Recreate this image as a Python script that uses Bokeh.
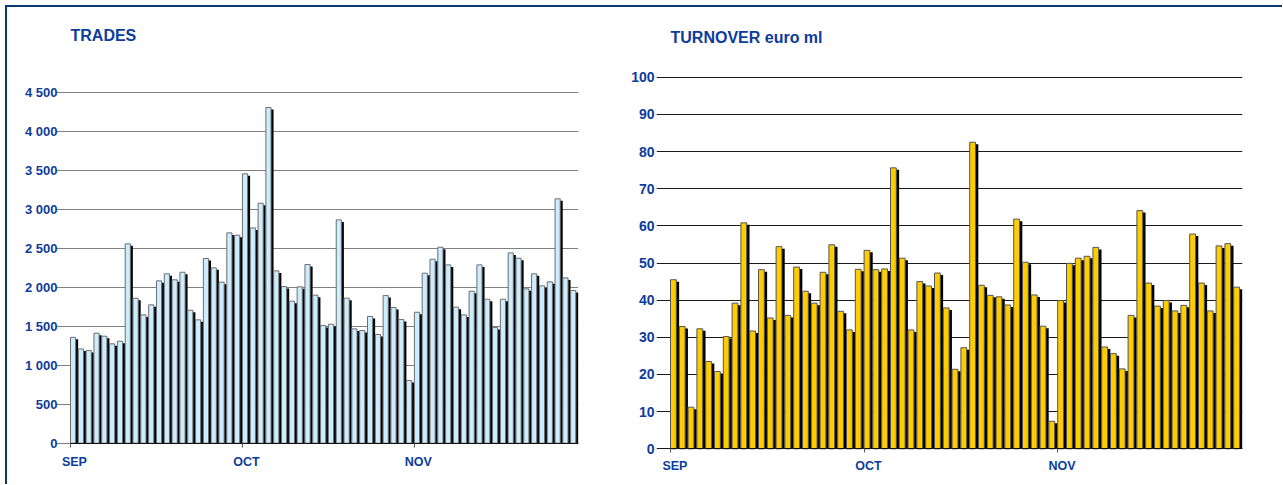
import numpy as np
from bokeh.plotting import figure
from bokeh.models import Range1d, FixedTicker, Label, ColumnDataSource
from bokeh.core.properties import value
from bokeh.layouts import row
from bokeh.embed import file_html
from bokeh.resources import INLINE

# ---------------- data ----------------
months = ["SEP", "OCT", "NOV"]
days_per_month = [22, 22, 21]

trades = [1360, 1210, 1190, 1413, 1374, 1276, 1310, 2560, 1862, 1648,
          1777, 2085, 2175, 2098, 2196, 1708, 1584, 2372, 2252, 2068,
          2701, 2671, 3459, 2765, 3082, 4311, 2213, 2012, 1824, 2008,
          2295, 1901, 1511, 1528, 2868, 1862, 1468, 1447, 1627, 1396,
          1896, 1742, 1588, 805, 1682, 2183, 2363, 2517, 2290, 1747,
          1648, 1952, 2290, 1849, 1485, 1849, 2444, 2376, 1982, 2175,
          2021, 2072, 3138, 2123, 1961]

turnover = [45.5, 32.9, 11.2, 32.3, 23.5, 20.8, 30.2, 39.2, 60.8, 31.7,
            48.2, 35.2, 54.4, 35.9, 48.9, 42.4, 39.2, 47.5, 54.9, 37.0,
            32.0, 48.3, 53.4, 48.2, 48.4, 75.6, 51.3, 32.0, 45.0, 43.8,
            47.3, 37.9, 21.4, 27.2, 82.5, 44.0, 41.3, 40.9, 38.7, 61.8,
            50.2, 41.4, 33.0, 7.4, 39.9, 49.9, 51.3, 51.8, 54.2, 27.4,
            25.6, 21.5, 35.9, 64.1, 44.6, 38.4, 39.9, 37.1, 38.6, 57.8,
            44.6, 37.1, 54.6, 55.2, 43.5]

trades_ticks = [0, 500, 1000, 1500, 2000, 2500, 3000, 3500, 4000, 4500]
trades_tick_labels = ["0", "500", "1 000", "1 500", "2 000", "2 500",
                      "3 000", "3 500", "4 000", "4 500"]
turnover_ticks = [0, 10, 20, 30, 40, 50, 60, 70, 80, 90, 100]
turnover_tick_labels = ["0", "10", "20", "30", "40", "50", "60", "70",
                        "80", "90", "100"]

titles = ["TRADES", "TURNOVER euro ml"]

# ---------------- styles / layout ----------------
FONT = "Liberation Sans"
BLUE = "#0D3C9C"
BORDER = "#0B3A6E"
BAR_W = 0.66       # bar width as fraction of a day slot
SHADOW_DX = 0.32   # shadow offset (slot units)
SHADOW_DY_PX = 2   # shadow drop (pixels)

OFFSET = 5          # outer frame position (page px)
BW = 2              # outer frame border width
C0 = OFFSET + BW    # content origin in page pixels

FRAME_TOP = 20       # page px, shared by both charts
FRAME_BOT = 478      # page px
FH = FRAME_BOT - FRAME_TOP
TOTAL_H = 485 - C0 - 1
SPLIT = 610          # page x where the right chart begins
RIGHT_EDGE = 1282
LEFT_PAD = 14        # extra frame room left of the first bar (px)


def make_chart(values, ticks, tick_labels, title, fill, outline, grid_color,
               plot_left, plot_right, fig_left, fig_right,
               y0_px, ytop_px, ytop_val, title_px, month_px,
               ylab_size, ylab_standoff):
    n = len(values)
    idx = np.arange(n)
    per_px = ytop_val / (y0_px - ytop_px)
    ymin = -(FRAME_BOT - y0_px) * per_px
    ymax = ytop_val + (ytop_px - FRAME_TOP) * per_px
    pitch = (plot_right - plot_left) / n
    xmin = -LEFT_PAD / pitch
    dy = SHADOW_DY_PX * per_px
    vals = np.array(values, dtype=float)
    src = ColumnDataSource(dict(
        x=idx + BAR_W / 2,
        xs=idx + BAR_W / 2 + SHADOW_DX,
        top=vals,
        tops=np.maximum(vals - dy, 0),
    ))
    frame_left = plot_left - LEFT_PAD
    fw = plot_right - frame_left
    p = figure(frame_width=fw, frame_height=FH,
               min_border_left=frame_left - fig_left,
               min_border_right=fig_right - plot_right,
               min_border_top=FRAME_TOP - C0,
               min_border_bottom=TOTAL_H - (FRAME_TOP - C0) - FH,
               x_range=Range1d(xmin, n), y_range=Range1d(ymin, ymax),
               toolbar_location=None, output_backend="svg",
               background_fill_color="white", border_fill_color="white")
    p.outline_line_color = None

    p.vbar(x="xs", top="tops", bottom=0, width=BAR_W, source=src,
           fill_color="black", line_color=None)
    p.vbar(x="x", top="top", bottom=0, width=BAR_W, source=src,
           fill_color=fill, line_color=outline, line_width=1)

    yax = p.yaxis[0]
    yax.ticker = FixedTicker(ticks=ticks, minor_ticks=[])
    yax.major_label_overrides = {t: l for t, l in zip(ticks, tick_labels)}
    yax.axis_line_color = None
    yax.major_tick_line_color = None
    yax.major_tick_out = 0
    yax.major_tick_in = 0
    yax.minor_tick_line_color = None
    yax.minor_tick_out = 0
    yax.major_label_standoff = ylab_standoff - LEFT_PAD
    yax.major_label_text_font = FONT
    yax.major_label_text_font_style = "bold"
    yax.major_label_text_font_size = ylab_size
    yax.major_label_text_color = BLUE

    # x axis: baseline at 0 with month-boundary tick marks
    starts = np.concatenate([[0], np.cumsum(days_per_month)[:-1]]).astype(float)
    xax = p.xaxis[0]
    xax.fixed_location = 0
    xax.bounds = (0, n)
    xax.ticker = FixedTicker(ticks=list(starts), minor_ticks=[])
    xax.major_label_overrides = {float(s): "" for s in starts}
    xax.major_label_standoff = 0
    xax.axis_line_color = "#111111"
    xax.axis_line_width = 1
    xax.major_tick_out = 4
    xax.major_tick_in = 0
    xax.major_tick_line_color = "#555555"
    xax.minor_tick_line_color = None
    xax.minor_tick_out = 0

    # month labels, centred on the first bar of each month
    p.text(x=starts + 0.5, y=np.full(len(months), -(month_px - y0_px) * per_px),
           text=months, text_font=value(FONT), text_font_style="bold",
           text_font_size="12.5px", text_color=BLUE,
           text_align="center", text_baseline="middle")

    p.xgrid.visible = False
    p.ygrid.ticker = FixedTicker(ticks=ticks)
    p.ygrid.bounds = (0, n)
    p.ygrid.grid_line_color = grid_color
    p.ygrid.grid_line_width = 1
    p.ygrid.level = "underlay"

    p.add_layout(Label(x=0, y=ytop_val + (ytop_px - title_px) * per_px,
                       text=title, text_font=FONT, text_font_style="bold",
                       text_font_size="16px", text_color=BLUE,
                       text_baseline="middle", text_align="left"))
    return p


left = make_chart(trades, trades_ticks, trades_tick_labels, titles[0],
                  "#CCECFF", "#6E6E6E", "#808080",
                  plot_left=70 - C0, plot_right=578 - C0,
                  fig_left=0, fig_right=SPLIT - C0,
                  y0_px=442.7, ytop_px=92.3, ytop_val=4500, title_px=35,
                  month_px=461.5, ylab_size="13px", ylab_standoff=13)
right = make_chart(turnover, turnover_ticks, turnover_tick_labels, titles[1],
                   "#FFCC00", "#555555", "#1A1A1A",
                   plot_left=670 - SPLIT, plot_right=1242 - SPLIT,
                   fig_left=0, fig_right=RIGHT_EDGE - SPLIT,
                   y0_px=448.3, ytop_px=76.7, ytop_val=100, title_px=37,
                   month_px=465.5, ylab_size="14px", ylab_standoff=16)

layout = row(left, right, styles={
    "margin-left": f"{OFFSET}px", "margin-top": f"{OFFSET}px",
    "border-left": f"{BW}px solid {BORDER}",
    "border-top": f"{BW}px solid {BORDER}",
    "background": "white",
})

open("out.html", "w").write(file_html(layout, INLINE))
